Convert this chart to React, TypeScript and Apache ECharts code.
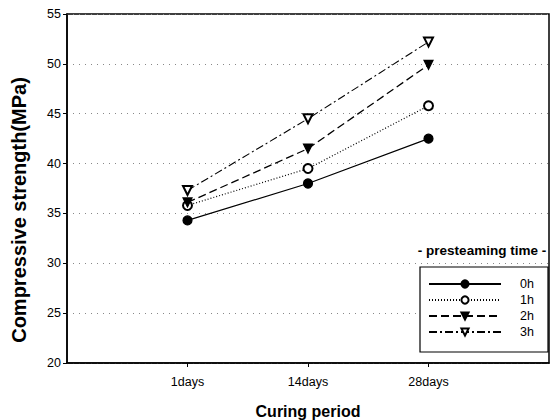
import React, { useEffect, useRef } from "react";
import * as echarts from "echarts";

const categories = ["1days", "14days", "28days"];
const seriesNames = ["0h", "1h", "2h", "3h"];
const values0h = [34.3, 38.0, 42.5];
const values1h = [35.8, 39.5, 45.8];
const values2h = [36.1, 41.5, 49.9];
const values3h = [37.3, 44.5, 52.2];
const yTicks = [20, 25, 30, 35, 40, 45, 50, 55];

const FONT = "Liberation Sans, Arial, Helvetica, sans-serif";

export default function App() {
  const ref = useRef<HTMLDivElement>(null);
  useEffect(() => {
    if (!ref.current) return;
    const chart = echarts.init(ref.current, null, { renderer: "svg" });
    const axisData = ["", ...categories, ""];
    const allValues = [values0h, values1h, values2h, values3h];
    const styles = [
      { symbol: "circle", rotate: 0, type: "solid" as any, width: 1.2 },
      { symbol: "emptyCircle", rotate: 0, type: [1, 2] as any, width: 1.2 },
      { symbol: "triangle", rotate: 180, type: [8, 4] as any, width: 1.3 },
      { symbol: "emptyTriangle", rotate: 180, type: [8, 3, 2, 3] as any, width: 1.1 },
    ];
    const series = seriesNames.map((name, i) => ({
      name,
      type: "line",
      data: categories.map((c, j) => [c, allValues[i][j]]),
      symbol: styles[i].symbol,
      symbolRotate: styles[i].rotate,
      symbolSize: 9,
      itemStyle: { color: "#000", borderColor: "#000", borderWidth: 1.2 },
      lineStyle: { color: "#000", width: styles[i].width, type: styles[i].type },
      emphasis: { disabled: true },
    }));
    chart.setOption({
      animation: false,
      textStyle: { fontFamily: FONT },
      grid: {
        left: 67,
        top: 14,
        width: 482,
        height: 349,
        show: true,
        borderColor: "#000",
        borderWidth: 1.5,
        backgroundColor: "transparent",
      },
      xAxis: {
        type: "category",
        data: axisData,
        boundaryGap: false,
        axisLine: { lineStyle: { color: "#000", width: 1.5 } },
        axisTick: {
          show: true,
          length: 4,
          interval: (idx: number, val: string) => val !== "",
          lineStyle: { color: "#000" },
        },
        axisLabel: { color: "#000", fontSize: 12.5, margin: 12, fontFamily: FONT, interval: 0 },
        splitLine: { show: false },
      },
      yAxis: {
        type: "value",
        min: yTicks[0],
        max: yTicks[yTicks.length - 1],
        interval: 5,
        axisLine: { show: true, lineStyle: { color: "#000", width: 1.5 } },
        axisTick: { show: true, length: 4, lineStyle: { color: "#000" } },
        axisLabel: { color: "#000", fontSize: 12.5, margin: 6, fontFamily: FONT },
        splitLine: { show: true, lineStyle: { color: "#888", type: [1, 5], width: 1 } },
      },
      legend: {
        orient: "vertical",
        left: 428,
        top: 277,
        z: 20,
        itemWidth: 72,
        itemHeight: 9,
        itemGap: 2,
        padding: 0,
        textStyle: { color: "#000", fontSize: 12.5, fontFamily: FONT, lineHeight: 14, padding: [0, 0, 0, 14] },
        data: seriesNames,
        selectedMode: false,
      },
      graphic: [
        {
          type: "rect",
          shape: { x: 420, y: 267, width: 128, height: 85 },
          style: { fill: "#fff", stroke: "#000", lineWidth: 1.2 },
          z: 3,
        },
        {
          type: "text",
          x: 482,
          y: 250,
          style: {
            text: "- presteaming time -",
            font: `bold 13.5px ${FONT}`,
            fill: "#000",
            align: "center",
            verticalAlign: "middle",
          },
          z: 5,
        },
        {
          type: "text",
          x: 308,
          y: 411,
          style: {
            text: "Curing period",
            font: `bold 16px ${FONT}`,
            fill: "#000",
            align: "center",
            verticalAlign: "middle",
          },
        },
        {
          type: "text",
          x: 19,
          y: 210,
          rotation: Math.PI / 2,
          style: {
            text: "Compressive strength(MPa)",
            font: `bold 20px ${FONT}`,
            fill: "#000",
            align: "center",
            verticalAlign: "middle",
          },
        },
      ],
      series,
    });
    return () => chart.dispose();
  }, []);
  return <div ref={ref} style={{ width: 559, height: 420, position: "absolute", left: 0, top: 0 }} />;
}
